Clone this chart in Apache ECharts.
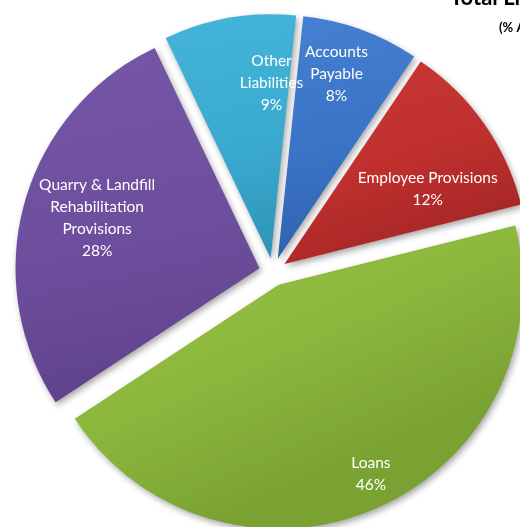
<!DOCTYPE html>
<html>
<head>
<meta charset="utf-8">
<script src="https://cdn.jsdelivr.net/npm/echarts@6/dist/echarts.min.js"></script>
<style>
  html, body { margin: 0; padding: 0; background: #ffffff; }
  #chart { width: 520px; height: 527px; }
</style>
</head>
<body>
<div id="chart"></div>
<script>
// Liability categories and their share of the total, in percent
const categories = [
  'Accounts\nPayable',
  'Employee Provisions',
  'Loans',
  'Quarry & Landfill\nRehabilitation\nProvisions',
  'Other\nLiabilities'
];
const shares = [8, 12, 46, 28, 9];

// Slice colours: [light, base, dark]
const palette = [
  ['#4580d2', '#3a72c4', '#2f62ad'],
  ['#c93935', '#bf302e', '#a82826'],
  ['#98c447', '#8bb73d', '#7aa232'],
  ['#7656a6', '#6d4e9d', '#5f428b'],
  ['#44b4d8', '#3aa9cf', '#2f95b8']
];

// Label nudges (dx, dy) in pixels, applied after the default inside placement
const labelShift = [
  [16, -67],
  [41, -3],
  [42, 75],
  [-42, -17],
  [22, -52]
];

const chart = echarts.init(document.getElementById('chart'), null, { renderer: 'canvas' });

const data = categories.map((name, i) => ({
  name: name,
  value: shares[i],
  selected: true,
  itemStyle: {
    color: {
      type: 'linear', x: 0, y: 0, x2: 0.3, y2: 1,
      colorStops: [
        { offset: 0, color: palette[i][0] },
        { offset: 0.6, color: palette[i][1] },
        { offset: 1, color: palette[i][2] }
      ]
    }
  }
}));

chart.setOption({
  animation: false,
  title: [
    {
      text: 'Total Liabilities',
      left: 445, top: -18,
      textStyle: { fontFamily: 'Lato', fontWeight: 'bold', fontSize: 22, color: '#000' }
    },
    {
      text: '(% Amount)',
      left: 494, top: 16,
      textStyle: { fontFamily: 'Lato', fontWeight: 'bold', fontSize: 13, color: '#000' }
    }
  ],
  series: [{
    type: 'pie',
    center: [273, 272],
    radius: [0, 244],
    startAngle: 84,
    clockwise: true,
    selectedMode: 'multiple',
    selectedOffset: 14,
    silent: true,
    itemStyle: {
      shadowBlur: 6,
      shadowOffsetX: 2,
      shadowOffsetY: 3,
      shadowColor: 'rgba(0,0,0,0.35)'
    },
    label: {
      show: true,
      position: 'inside',
      formatter: '{b}\n{c}%',
      color: '#ffffff',
      fontFamily: 'Lato',
      fontSize: 15.5,
      lineHeight: 22,
      align: 'center'
    },
    labelLine: { show: false },
    labelLayout: function (params) {
      const s = labelShift[params.dataIndex];
      return { dx: s[0], dy: s[1] };
    },
    data: data
  }]
});
</script>
</body>
</html>
